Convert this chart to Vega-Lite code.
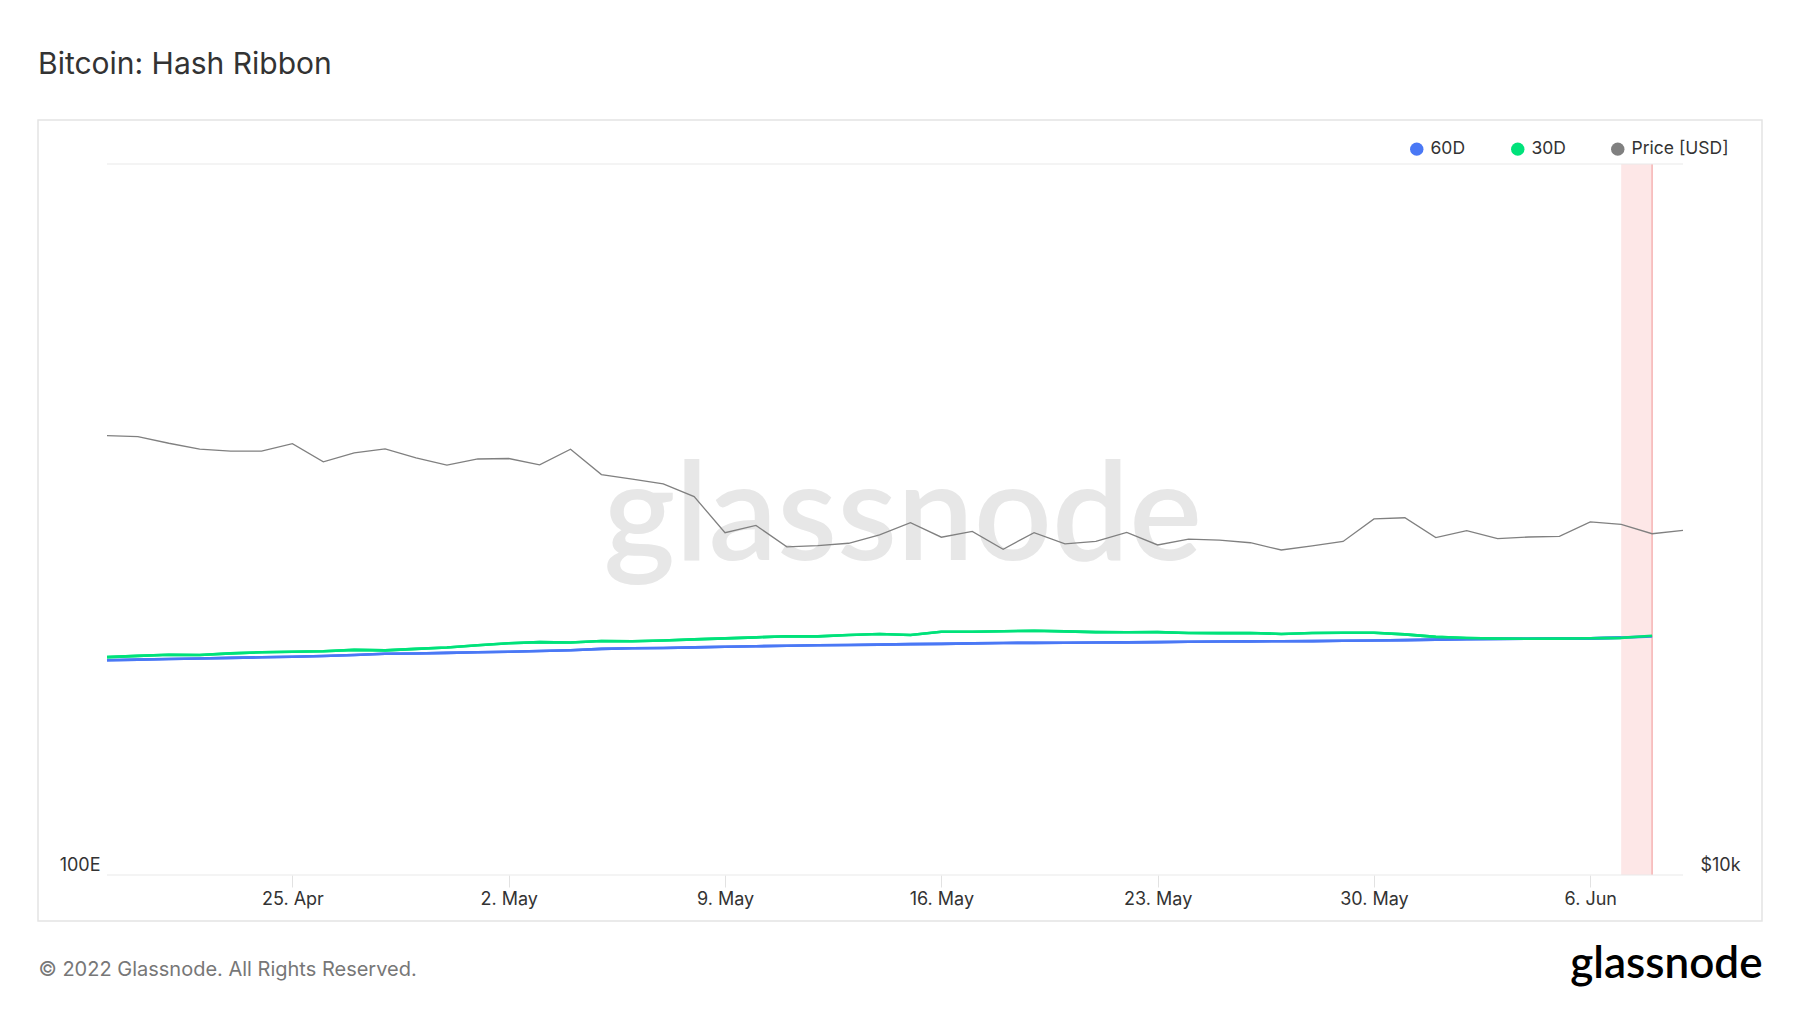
{
  "$schema": "https://vega.github.io/schema/vega-lite/v6.json",
  "width": 1724,
  "height": 801,
  "autosize": {"type": "none"},
  "padding": {"left": 38, "top": 120, "right": 38, "bottom": 92},
  "background": "#ffffff",
  "title": {"text": "Bitcoin: Hash Ribbon", "anchor": "start", "frame": "group", "orient": "top", "offset": 16, "baseline": "alphabetic", "font": "Inter", "fontSize": 30, "fontWeight": 400, "color": "#333333"},
  "config": {"view": {"stroke": "#e4e4e4", "strokeWidth": 1.5}, "font": "Inter"},
  "datasets": {
    "price": [
      {"date":"2022-04-19","price":41500},{"date":"2022-04-20","price":41370},{"date":"2022-04-21","price":40480},{"date":"2022-04-22","price":39710},{"date":"2022-04-23","price":39470},{"date":"2022-04-24","price":39460},{"date":"2022-04-25","price":40430},{"date":"2022-04-26","price":38110},{"date":"2022-04-27","price":39240},{"date":"2022-04-28","price":39740},{"date":"2022-04-29","price":38600},{"date":"2022-04-30","price":37710},
      {"date":"2022-05-01","price":38470},{"date":"2022-05-02","price":38530},{"date":"2022-05-03","price":37750},{"date":"2022-05-04","price":39700},{"date":"2022-05-05","price":36580},{"date":"2022-05-06","price":36040},{"date":"2022-05-07","price":35500},{"date":"2022-05-08","price":34060},{"date":"2022-05-09","price":30300},{"date":"2022-05-10","price":31020},{"date":"2022-05-11","price":28940},{"date":"2022-05-12","price":29050},{"date":"2022-05-13","price":29280},{"date":"2022-05-14","price":30080},{"date":"2022-05-15","price":31300},{"date":"2022-05-16","price":29860},{"date":"2022-05-17","price":30420},{"date":"2022-05-18","price":28720},{"date":"2022-05-19","price":30310},{"date":"2022-05-20","price":29230},{"date":"2022-05-21","price":29450},{"date":"2022-05-22","price":30320},{"date":"2022-05-23","price":29120},{"date":"2022-05-24","price":29680},{"date":"2022-05-25","price":29580},{"date":"2022-05-26","price":29330},{"date":"2022-05-27","price":28650},{"date":"2022-05-28","price":29040},{"date":"2022-05-29","price":29450},{"date":"2022-05-30","price":31680},{"date":"2022-05-31","price":31800},
      {"date":"2022-06-01","price":29820},{"date":"2022-06-02","price":30500},{"date":"2022-06-03","price":29720},{"date":"2022-06-04","price":29880},{"date":"2022-06-05","price":29950},{"date":"2022-06-06","price":31380},{"date":"2022-06-07","price":31130},{"date":"2022-06-08","price":30200},{"date":"2022-06-09","price":30520}
    ],
    "hash": [
      {"date":"2022-04-19","series":"60D","value":200.5},{"date":"2022-04-20","series":"60D","value":200.9},{"date":"2022-04-21","series":"60D","value":201.3},{"date":"2022-04-22","series":"60D","value":201.6},{"date":"2022-04-23","series":"60D","value":202.0},{"date":"2022-04-24","series":"60D","value":202.4},{"date":"2022-04-25","series":"60D","value":202.8},{"date":"2022-04-26","series":"60D","value":203.2},{"date":"2022-04-27","series":"60D","value":203.9},{"date":"2022-04-28","series":"60D","value":204.7},{"date":"2022-04-29","series":"60D","value":204.9},{"date":"2022-04-30","series":"60D","value":205.3},
      {"date":"2022-05-01","series":"60D","value":205.7},{"date":"2022-05-02","series":"60D","value":206.1},{"date":"2022-05-03","series":"60D","value":206.6},{"date":"2022-05-04","series":"60D","value":207.1},{"date":"2022-05-05","series":"60D","value":208.0},{"date":"2022-05-06","series":"60D","value":208.4},{"date":"2022-05-07","series":"60D","value":208.6},{"date":"2022-05-08","series":"60D","value":209.0},{"date":"2022-05-09","series":"60D","value":209.4},{"date":"2022-05-10","series":"60D","value":209.8},{"date":"2022-05-11","series":"60D","value":210.1},{"date":"2022-05-12","series":"60D","value":210.4},{"date":"2022-05-13","series":"60D","value":210.6},{"date":"2022-05-14","series":"60D","value":210.9},{"date":"2022-05-15","series":"60D","value":211.2},{"date":"2022-05-16","series":"60D","value":211.4},{"date":"2022-05-17","series":"60D","value":211.7},{"date":"2022-05-18","series":"60D","value":212.0},{"date":"2022-05-19","series":"60D","value":212.1},{"date":"2022-05-20","series":"60D","value":212.2},{"date":"2022-05-21","series":"60D","value":212.3},{"date":"2022-05-22","series":"60D","value":212.4},{"date":"2022-05-23","series":"60D","value":212.6},{"date":"2022-05-24","series":"60D","value":212.8},{"date":"2022-05-25","series":"60D","value":213.0},{"date":"2022-05-26","series":"60D","value":213.1},{"date":"2022-05-27","series":"60D","value":213.2},{"date":"2022-05-28","series":"60D","value":213.3},{"date":"2022-05-29","series":"60D","value":213.5},{"date":"2022-05-30","series":"60D","value":213.7},{"date":"2022-05-31","series":"60D","value":214.0},
      {"date":"2022-06-01","series":"60D","value":214.3},{"date":"2022-06-02","series":"60D","value":214.6},{"date":"2022-06-03","series":"60D","value":214.8},{"date":"2022-06-04","series":"60D","value":214.9},{"date":"2022-06-05","series":"60D","value":215.0},{"date":"2022-06-06","series":"60D","value":215.2},{"date":"2022-06-07","series":"60D","value":215.7},{"date":"2022-06-08","series":"60D","value":216.6},
      {"date":"2022-04-19","series":"30D","value":202.5},{"date":"2022-04-20","series":"30D","value":203.3},{"date":"2022-04-21","series":"30D","value":204.1},{"date":"2022-04-22","series":"30D","value":203.9},{"date":"2022-04-23","series":"30D","value":205.0},{"date":"2022-04-24","series":"30D","value":205.7},{"date":"2022-04-25","series":"30D","value":206.1},{"date":"2022-04-26","series":"30D","value":206.4},{"date":"2022-04-27","series":"30D","value":207.3},{"date":"2022-04-28","series":"30D","value":207.0},{"date":"2022-04-29","series":"30D","value":208.0},{"date":"2022-04-30","series":"30D","value":208.9},
      {"date":"2022-05-01","series":"30D","value":210.4},{"date":"2022-05-02","series":"30D","value":211.8},{"date":"2022-05-03","series":"30D","value":212.6},{"date":"2022-05-04","series":"30D","value":212.3},{"date":"2022-05-05","series":"30D","value":213.4},{"date":"2022-05-06","series":"30D","value":213.2},{"date":"2022-05-07","series":"30D","value":213.7},{"date":"2022-05-08","series":"30D","value":214.5},{"date":"2022-05-09","series":"30D","value":215.2},{"date":"2022-05-10","series":"30D","value":215.9},{"date":"2022-05-11","series":"30D","value":216.7},{"date":"2022-05-12","series":"30D","value":216.6},{"date":"2022-05-13","series":"30D","value":217.5},{"date":"2022-05-14","series":"30D","value":218.3},{"date":"2022-05-15","series":"30D","value":217.5},{"date":"2022-05-16","series":"30D","value":219.8},{"date":"2022-05-17","series":"30D","value":219.8},{"date":"2022-05-18","series":"30D","value":220.2},{"date":"2022-05-19","series":"30D","value":220.6},{"date":"2022-05-20","series":"30D","value":220.1},{"date":"2022-05-21","series":"30D","value":219.6},{"date":"2022-05-22","series":"30D","value":219.5},{"date":"2022-05-23","series":"30D","value":219.6},{"date":"2022-05-24","series":"30D","value":219.0},{"date":"2022-05-25","series":"30D","value":218.9},{"date":"2022-05-26","series":"30D","value":219.0},{"date":"2022-05-27","series":"30D","value":218.3},{"date":"2022-05-28","series":"30D","value":219.0},{"date":"2022-05-29","series":"30D","value":219.1},{"date":"2022-05-30","series":"30D","value":219.1},{"date":"2022-05-31","series":"30D","value":218.0},
      {"date":"2022-06-01","series":"30D","value":216.2},{"date":"2022-06-02","series":"30D","value":215.4},{"date":"2022-06-03","series":"30D","value":215.0},{"date":"2022-06-04","series":"30D","value":214.9},{"date":"2022-06-05","series":"30D","value":215.0},{"date":"2022-06-06","series":"30D","value":215.3},{"date":"2022-06-07","series":"30D","value":215.5},{"date":"2022-06-08","series":"30D","value":217.0}
    ],
    "capitulation": [{"start":"2022-06-07","end":"2022-06-08"}],
    "grid": [{"v":100},{"v":1000}],
    "mark": [{"label":"glassnode"}]
  },
  "layer": [
    {
      "layer": [
        {
          "data": {"name": "hash"},
          "mark": {"type": "line", "strokeWidth": 2.6},
          "encoding": {
            "x": {
              "field": "date", "type": "temporal",
              "scale": {"type": "utc", "domain": [{"year":2022,"month":4,"date":19,"utc":true},{"year":2022,"month":6,"date":9,"utc":true}], "range": [69, 1645]},
              "axis": {
                "title": "© 2022 Glassnode. All Rights Reserved.",
                "orient": "bottom", "offset": -46,
                "values": [{"year":2022,"month":4,"date":25,"utc":true},{"year":2022,"month":5,"date":2,"utc":true},{"year":2022,"month":5,"date":9,"utc":true},{"year":2022,"month":5,"date":16,"utc":true},{"year":2022,"month":5,"date":23,"utc":true},{"year":2022,"month":5,"date":30,"utc":true},{"year":2022,"month":6,"date":6,"utc":true}],
                "format": "%-d. %b",
                "domain": false, "grid": false,
                "tickColor": "#e2e2e2", "tickSize": 12, "tickWidth": 1,
                "labelPadding": 3, "labelFont": "Inter", "labelFontSize": 18, "labelColor": "#333333",
                "titleX": 0, "titleY": 100, "titleAlign": "left", "titleAnchor": "start", "titleBaseline": "alphabetic",
                "titleFont": "Inter", "titleFontSize": 20, "titleFontWeight": 400, "titleColor": "#777777"
              }
            },
            "y": {
              "field": "value", "type": "quantitative",
              "scale": {"type": "log", "domain": [100, 1000], "range": [755, 44], "nice": false},
              "axis": {
                "orient": "left", "offset": -69, "values": [100], "labelExpr": "'100E'", "title": null,
                "ticks": false, "domain": false, "grid": false, "labelPadding": 7,
                "labelBaseline": "alphabetic", "labelOffset": -5,
                "labelFont": "Inter", "labelFontSize": 18, "labelColor": "#333333"
              }
            },
            "color": {
              "field": "series", "type": "nominal",
              "scale": {"domain": ["60D", "30D", "Price [USD]"], "range": ["#4a78f5", "#00e27a", "#808080"]},
              "legend": {
                "orient": "none", "legendX": 1370, "legendY": 20, "direction": "horizontal", "title": null,
                "symbolType": "circle", "symbolSize": 180, "symbolStrokeWidth": 0, "symbolOpacity": 1,
                "labelFont": "Inter", "labelFontSize": 17.5, "labelColor": "#333333",
                "columnPadding": 43, "labelOffset": 5,
                "encode": {"symbols": {"update": {"fill": {"scale": "color", "field": "value"}}}}
              }
            }
          }
        },
        {
          "data": {"name": "capitulation"},
          "mark": {"type": "rect", "color": "#fde7e7"},
          "encoding": {
            "x": {"field": "start", "type": "temporal"},
            "x2": {"field": "end"},
            "y": {"datum": 1000, "type": "quantitative"},
            "y2": {"datum": 100}
          }
        },
        {
          "data": {"name": "capitulation"},
          "mark": {"type": "rule", "color": "#f6b3b3", "strokeWidth": 1.5},
          "encoding": {
            "x": {"field": "end", "type": "temporal"},
            "y": {"datum": 1000, "type": "quantitative"},
            "y2": {"datum": 100}
          }
        },
        {
          "data": {"name": "grid"},
          "mark": {"type": "rule", "color": "#e9e9e9", "strokeWidth": 1},
          "encoding": {
            "x": {"datum": {"year":2022,"month":4,"date":19,"utc":true}, "type": "temporal"},
            "x2": {"datum": {"year":2022,"month":6,"date":9,"utc":true}},
            "y": {"field": "v", "type": "quantitative"}
          }
        },
        {
          "data": {"name": "hash"},
          "mark": {"type": "line", "strokeWidth": 2.6},
          "encoding": {
            "x": {"field": "date", "type": "temporal"},
            "y": {"field": "value", "type": "quantitative"},
            "color": {"field": "series", "type": "nominal"}
          }
        }
      ]
    },
    {
      "layer": [
        {
          "data": {"name": "price"},
          "mark": {"type": "line", "strokeWidth": 1.3, "opacity": 0},
          "encoding": {
            "x": {"field": "date", "type": "temporal"},
            "y": {
              "field": "price", "type": "quantitative",
              "scale": {"type": "log", "domain": [10000, 100000], "range": [755, 44], "nice": false},
              "axis": {
                "orient": "right", "offset": -79, "values": [10000], "labelExpr": "'$10k'",
                "ticks": false, "domain": false, "grid": false, "labelPadding": 17,
                "labelBaseline": "alphabetic", "labelOffset": -5,
                "labelFont": "Inter", "labelFontSize": 18, "labelColor": "#333333",
                "title": "glassnode", "titleAngle": 0, "titleX": 79, "titleY": 857,
                "titleAlign": "right", "titleBaseline": "alphabetic",
                "titleFont": "Lato", "titleFontSize": 44, "titleFontWeight": 600, "titleColor": "#000000"
              }
            },
            "color": {"datum": "Price [USD]"}
          }
        },
        {
          "data": {"name": "mark"},
          "mark": {"type": "text", "font": "Lato", "fontSize": 137, "fontWeight": 600, "color": "#e7e7e7", "align": "center", "baseline": "alphabetic"},
          "encoding": {
            "text": {"field": "label"},
            "x": {"datum": {"year":2022,"month":5,"date":14,"hours":18,"utc":true}, "type": "temporal"},
            "y": {"datum": 27700, "type": "quantitative"}
          }
        },
        {
          "data": {"name": "price"},
          "mark": {"type": "line", "strokeWidth": 1.3},
          "encoding": {
            "x": {"field": "date", "type": "temporal"},
            "y": {"field": "price", "type": "quantitative"},
            "color": {"datum": "Price [USD]"}
          }
        }
      ]
    }
  ],
  "resolve": {"scale": {"y": "independent"}}
}
